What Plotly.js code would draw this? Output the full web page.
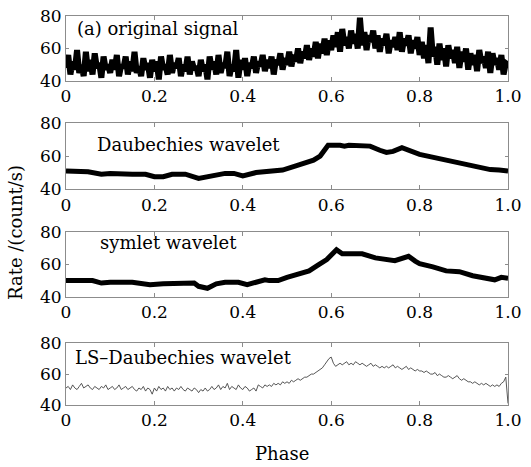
<!DOCTYPE html>
<html>
<head>
<meta charset="utf-8">
<script src="https://cdn.plot.ly/plotly-3.0.1.min.js"></script>
<style>html,body{margin:0;padding:0;background:#fff;}#chart{width:531px;height:467px;}</style>
</head>
<body>
<div id="chart"></div>
<script>
// ---- data ----
const xTickVals = [0, 0.2, 0.4, 0.6, 0.8, 1.0];
const xTickText = ['0', '0.2', '0.4', '0.6', '0.8', '1.0'];
const yTickVals = [40, 60, 80];
const panelLabels = ['(a) original signal', 'Daubechies wavelet', 'symlet wavelet', 'LS\u2013Daubechies wavelet'];

// original signal, 201 evenly spaced phase bins
const originalRate = [
  48,56,44,52,47,59,45,50,43,58,46,53,44,57,48,51,42,55,47,50,
  45,53,47,56,43,50,48,55,44,52,46,58,45,49,43,54,47,51,42,53,
  46,52,41,55,47,50,44,56,45,51,48,54,43,50,46,55,44,52,47,49,
  43,53,46,50,41,55,47,52,44,56,45,51,48,58,43,50,46,59,42,53,
  47,54,43,51,48,55,45,52,49,56,46,53,48,55,44,53,50,57,47,54,
  50,58,49,56,52,60,51,58,54,62,53,60,55,64,54,63,57,66,56,65,
  59,68,61,70,58,72,62,67,60,71,63,69,60,79,62,70,59,68,64,71,
  60,68,58,66,62,69,57,65,61,67,59,70,58,66,62,68,57,65,60,67,
  56,64,54,62,51,73,55,61,50,63,53,60,49,62,54,59,51,61,48,58,
  52,60,47,57,50,56,46,59,51,55,48,58,45,57,50,54,47,56,44,51,50
];

// Daubechies wavelet denoised
const daubPhase = [0,0.05,0.08,0.1,0.15,0.18,0.2,0.22,0.24,0.27,0.3,0.33,0.36,0.38,0.4,0.43,0.47,0.49,0.52,0.56,0.575,0.593,0.62,0.63,0.64,0.688,0.71,0.725,0.74,0.76,0.8,0.85,0.9,0.92,0.96,0.98,1.0];
const daubRate  = [51,50.5,49,49.5,49,49,47.5,47.5,49,49,46.5,48,49.5,49.5,48,50,51,51.5,54,57.5,60,66.5,66.5,66,66.5,66,63.5,62.2,62.8,65,61,58,55.5,54.5,51.8,51.5,51];

// symlet wavelet denoised
const symPhase = [0,0.06,0.08,0.1,0.15,0.18,0.19,0.22,0.26,0.29,0.3,0.32,0.34,0.36,0.39,0.41,0.43,0.45,0.46,0.48,0.5,0.53,0.55,0.57,0.59,0.612,0.625,0.67,0.7,0.744,0.775,0.79,0.8,0.83,0.86,0.89,0.92,0.97,0.985,1.0];
const symRate  = [50,50,48.5,49,49,48,47.5,48,48.5,48.5,46.5,45.3,48,49,49,47.5,49,50.5,50,50,52,54,56,59.5,63,69,66.5,66.5,64,62.3,65,62,60.5,58.5,56,55.5,53,50.5,52,51.5];

// LS-Daubechies wavelet denoised, 201 evenly spaced phase bins
const lsRate = [
  51,52,50,53,51,50,52,54,51,52,53,51,50,52,51,50,52,51,53,50,
  51,52,50,51,53,50,51,52,50,51,52,50,49,51,50,52,49,51,50,47,
  51,49,52,50,51,49,52,50,51,49,51,50,52,50,49,51,50,49,51,50,
  48,50,49,51,49,50,52,50,51,53,50,52,51,54,50,52,51,50,53,51,
  50,52,51,49,50,51,49,53,52,51,53,52,53,52,54,53,54,53,55,54,
  55,54,56,55,56,57,56,57,58,58,59,60,60,61,62,63,64,66,68,70,
  71,67,65,66,67,66,67,68,66,67,66,68,67,66,67,66,65,66,67,65,
  66,65,64,65,64,65,64,65,66,64,65,64,63,64,65,63,64,63,62,63,
  62,62,61,62,61,60,60,61,59,60,59,58,58,59,58,57,58,59,57,56,
  57,56,55,55,54,55,54,53,54,53,54,53,52,53,52,53,52,54,55,58,41
];

// phase bins for the evenly sampled series
function bins(n) { const p = []; for (let i = 0; i < n; i++) p.push(i / (n - 1)); return p; }
const originalPhase = bins(originalRate.length);
const lsPhase = bins(lsRate.length);

// ---- styling ----
const FONT = 'DejaVu Serif';
const axisColor = '#8c8c8c';
const domains = [[0.833, 1.0], [0.555, 0.725], [0.278, 0.445], [0.0, 0.159]];

const traces = [
  {x: originalPhase, y: originalRate, xaxis: 'x', yaxis: 'y', line: {color: '#000', width: 6}},
  {x: daubPhase, y: daubRate, xaxis: 'x2', yaxis: 'y2', line: {color: '#000', width: 5}},
  {x: symPhase, y: symRate, xaxis: 'x3', yaxis: 'y3', line: {color: '#000', width: 5}},
  {x: lsPhase, y: lsRate, xaxis: 'x4', yaxis: 'y4', line: {color: '#444', width: 0.9}}
].map(t => Object.assign({type: 'scatter', mode: 'lines', showlegend: false, hoverinfo: 'skip'}, t));

const layout = {
  width: 531, height: 467,
  margin: {l: 66, r: 23, t: 16, b: 62},
  paper_bgcolor: '#fff', plot_bgcolor: '#fff',
  font: {family: FONT, size: 17, color: '#000'},
  showlegend: false,
  annotations: []
};

const yLabelPos = [0.815, 0.667, 0.84, 0.77];
const xLabelPos = [0.02, 0.066, 0.072, 0.016];

for (let i = 0; i < 4; i++) {
  const s = i === 0 ? '' : String(i + 1);
  layout['xaxis' + s] = {
    domain: [0, 1], range: [0, 1], anchor: 'y' + s,
    tickvals: xTickVals, ticktext: xTickText,
    ticks: 'inside', ticklen: 4, tickcolor: axisColor, tickwidth: 1,
    showline: true, linecolor: axisColor, linewidth: 1, mirror: 'ticks',
    showgrid: false, zeroline: false, fixedrange: true,
    tickfont: {family: FONT, size: 17, color: '#000'}
  };
  layout['yaxis' + s] = {
    domain: domains[i], range: [40, 80], anchor: 'x' + s,
    tickvals: yTickVals,
    ticks: 'inside', ticklen: 3, tickcolor: axisColor, tickwidth: 1,
    showline: true, linecolor: axisColor, linewidth: 1, mirror: 'ticks',
    showgrid: false, zeroline: false, fixedrange: true,
    tickfont: {family: FONT, size: 17, color: '#000'}
  };
  layout.annotations.push({
    text: panelLabels[i], showarrow: false,
    xref: 'x' + s + ' domain', yref: 'y' + s + ' domain',
    x: xLabelPos[i], y: yLabelPos[i], xanchor: 'left', yanchor: 'middle',
    font: {family: FONT, size: 18, color: '#000'}
  });
}

layout.annotations.push({
  text: 'Rate /(count/s)', showarrow: false, textangle: -90,
  xref: 'paper', yref: 'paper', x: -0.1154, y: 0.4447,
  xanchor: 'center', yanchor: 'middle',
  font: {family: FONT, size: 18, color: '#000'}
});
layout.annotations.push({
  text: 'Phase', showarrow: false,
  xref: 'paper', yref: 'paper', x: 0.4887, y: -0.1234,
  xanchor: 'center', yanchor: 'middle',
  font: {family: FONT, size: 18, color: '#000'}
});

Plotly.newPlot('chart', traces, layout, {staticPlot: true, displayModeBar: false});
</script>
</body>
</html>
